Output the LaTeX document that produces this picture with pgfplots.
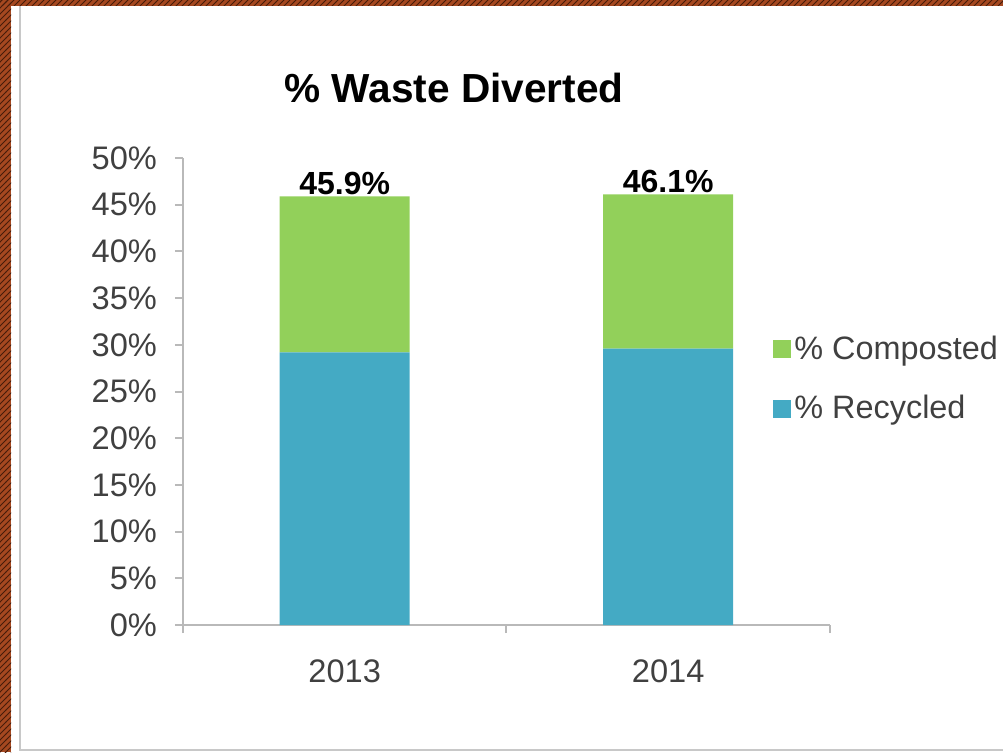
\documentclass[border=0pt]{standalone}
\usepackage{pgfplots}
\pgfplotsset{compat=1.18}
\usepackage{fontspec}
\setmainfont{Liberation Sans}
\usetikzlibrary{patterns}
\definecolor{comp}{RGB}{146,208,90}
\definecolor{recy}{RGB}{68,170,196}
\definecolor{axgray}{RGB}{185,185,185}
\definecolor{frame}{RGB}{200,200,200}
\definecolor{txt}{RGB}{64,64,64}
\definecolor{brn}{RGB}{165,72,32}
\definecolor{brndark}{RGB}{70,28,10}
\begin{document}
\begin{tikzpicture}
\begin{scope}[x=0.5pt,y=0.5pt]
\useasboundingbox (0,0) rectangle (1003,752);
% hatched border
\fill[brn] (0,0) rectangle (11,752);
\fill[brn] (0,746) rectangle (1003,752);
\fill[pattern=north east lines, pattern color=brndark] (0,0) rectangle (11,752);
\fill[pattern=north east lines, pattern color=brndark] (0,746) rectangle (1003,752);
% frame
\draw[frame, line width=1.2pt] (20,746) -- (20,2) -- (1003,2);
% title
\node[font=\bfseries\fontsize{20.3}{24}\selectfont, text=black, anchor=base, inner sep=0pt] at (454,650) {\% Waste Diverted};
\end{scope}
\begin{axis}[
  at={(91.5pt,63.5pt)}, anchor=south west,
  width=323.5pt, height=233.5pt, scale only axis,
  xmin=-0.5, xmax=1.5, ymin=0, ymax=50,
  ybar stacked, bar width=65pt,
  axis x line*=bottom, axis y line*=left,
  axis line style={axgray, line width=1pt, -},
  tick style={axgray, line width=1pt},
  tick align=outside,
  xtick={-0.5,0.5,1.5}, xticklabels={},
  major tick length=4pt,
  extra x ticks={0,1}, extra x tick labels={2013,2014},
  extra x tick style={tick style={draw=none}},
  ytick={0,5,...,50},
  yticklabel={\pgfmathprintnumber[assume math mode=true]{\tick}\%},
  ticklabel style={font=\fontsize{16.3}{19}\selectfont, text=txt},
  yticklabel style={xshift=-5.5pt},
  xticklabel style={yshift=-10pt},
  legend style={draw=none, fill=none, at={(axis description cs:0.912,0.527)}, anchor=west,
    font=\fontsize{16.2}{19}\selectfont, text=txt, inner sep=0pt, row sep=13.5pt,
    nodes={inner sep=1.5pt}},
  legend cell align=left,
  reverse legend,
  legend image code/.code={\fill (0pt,-4.5pt) rectangle (9pt,4.5pt);},
]
\addplot[fill=recy, draw=none] coordinates {(0,29.2) (1,29.6)};
\addlegendentry{\% Recycled}
\addplot[fill=comp, draw=none,
  nodes near coords, point meta=explicit symbolic,
  visualization depends on={rawy \as \rawy},
  every node near coord/.append style={font=\bfseries\fontsize{16}{19}\selectfont, text=black, inner sep=0pt, anchor=base, yshift={\rawy*2.335pt+1pt}}]
  coordinates {(0,16.7) [45.9\%] (1,16.5) [46.1\%]};
\addlegendentry{\% Composted}
\end{axis}
\end{tikzpicture}
\end{document}
